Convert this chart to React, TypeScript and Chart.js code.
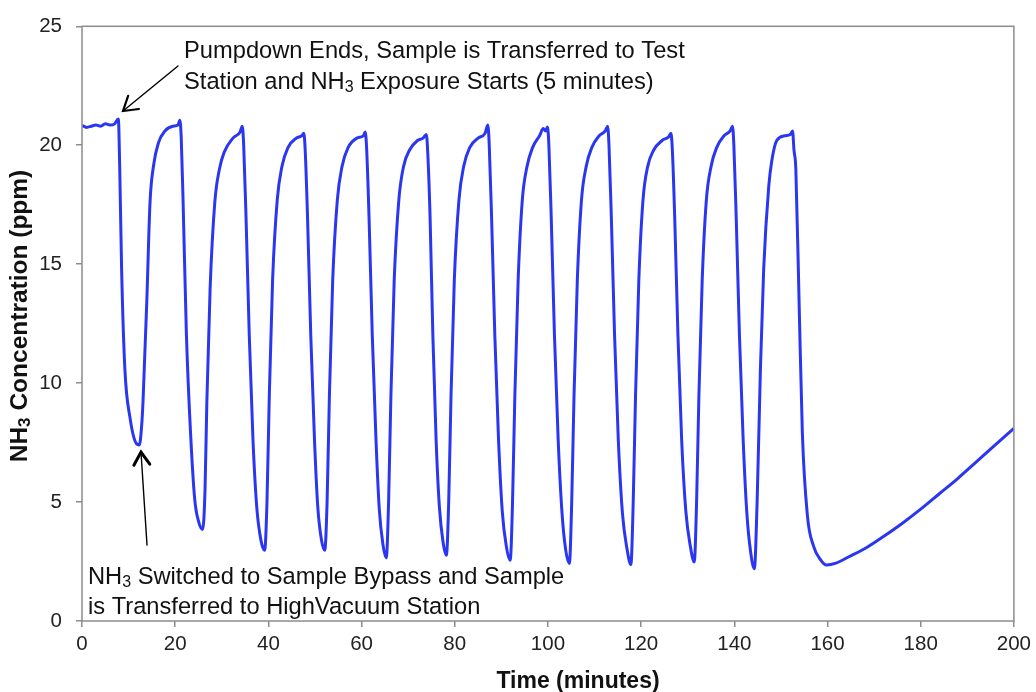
import React, { useEffect, useRef } from "react";
import { Chart, registerables } from "chart.js";

Chart.register(...registerables);

// Time (minutes)
const timeMinutes: number[] = [
  0, 1, 2, 3, 4, 5, 6, 7, 7.8,
  8.1, 8.5, 9.2, 10.3, 11.7, 12.3,
  12.8, 13.1, 13.9, 14.6, 15.4, 16.4, 17.8, 19.5, 20.6, 21.0,
  21.3, 21.7, 22.4, 23.3, 24.2, 25.0, 25.9,
  26.4, 26.8, 27.5, 28.5, 29.5, 30.5, 32.4, 33.9, 34.4,
  34.7, 35.2, 35.9, 36.7, 37.5, 38.4, 39.2,
  39.7, 40.2, 40.9, 41.9, 42.9, 44.2, 46.0, 47.2, 47.6,
  47.9, 48.4, 49.1, 49.9, 50.6, 51.4, 52.1,
  52.6, 53.1, 53.8, 54.8, 55.8, 57.1, 59.0, 60.4, 60.8,
  61.1, 61.6, 62.3, 63.1, 63.8, 64.6, 65.3,
  65.8, 66.3, 67.0, 68.0, 69.0, 70.3, 72.0, 73.2, 73.9,
  74.2, 74.7, 75.3, 76.0, 76.7, 77.5, 78.2,
  78.7, 79.2, 79.9, 80.9, 81.9, 83.2, 85.0, 86.5, 87.1,
  87.4, 87.9, 88.6, 89.4, 90.2, 91.1, 91.9,
  92.4, 92.9, 93.6, 94.5, 95.5, 96.7, 98.2, 99.0, 99.5, 99.9,
  100.2, 100.7, 101.4, 102.2, 103.0, 103.8, 104.6,
  105.1, 105.6, 106.3, 107.2, 108.2, 109.4, 111.0, 112.3, 112.8,
  113.1, 113.6, 114.3, 115.1, 116.0, 117.0, 117.8,
  118.3, 118.8, 119.5, 120.4, 121.4, 122.7, 124.5, 125.9, 126.4,
  126.7, 127.2, 127.9, 128.7, 129.6, 130.6, 131.4,
  131.9, 132.4, 133.1, 134.0, 135.0, 136.2, 137.8, 139.1, 139.6,
  139.9, 140.4, 141.1, 141.9, 142.7, 143.5, 144.3,
  144.9, 145.6, 146.3, 147.4, 148.0, 149.1, 150.9, 152.0, 152.5,
  152.8, 153.2, 153.9, 154.6, 155.7, 157.0, 158.4, 159.8,
  161.8, 164.6, 168.5, 172, 176, 180, 184, 188, 192, 196, 200,
];

// NH3 concentration (ppm)
const nh3Ppm: number[] = [
  20.84, 20.75, 20.8, 20.85, 20.8, 20.9, 20.85, 20.9, 21.1,
  19.0, 14.8, 10.6, 8.55, 7.45, 7.4,
  8.2, 9.25, 13.4, 17.6, 19.2, 20.1, 20.6, 20.8, 20.85, 21.05,
  20.3, 17.6, 12.1, 7.9, 5.1, 4.2, 3.85,
  5.5, 9.25, 14.0, 17.6, 19.0, 19.7, 20.3, 20.55, 20.8,
  20.0, 17.0, 12.0, 7.6, 4.8, 3.4, 2.97,
  5.0, 9.5, 14.3, 17.7, 19.1, 19.9, 20.3, 20.4, 20.5,
  19.8, 17.0, 12.0, 7.6, 4.8, 3.4, 2.97,
  5.0, 9.5, 14.3, 17.7, 19.1, 19.9, 20.3, 20.4, 20.56,
  19.8, 17.0, 12.0, 7.6, 4.7, 3.2, 2.65,
  5.0, 9.5, 14.3, 17.7, 19.1, 19.8, 20.2, 20.3, 20.45,
  19.7, 17.0, 12.0, 7.6, 4.8, 3.3, 2.76,
  5.0, 9.5, 14.3, 17.7, 19.1, 19.9, 20.3, 20.5, 20.85,
  20.0, 17.0, 12.0, 7.6, 4.6, 3.1, 2.55,
  5.0, 9.5, 14.3, 17.7, 19.1, 19.9, 20.4, 20.7, 20.6, 20.77,
  20.0, 17.0, 12.0, 7.6, 4.6, 3.0, 2.42,
  5.0, 9.5, 14.3, 17.7, 19.1, 19.9, 20.4, 20.6, 20.8,
  20.0, 17.0, 12.0, 7.6, 4.5, 3.0, 2.37,
  5.0, 9.5, 14.3, 17.7, 19.1, 19.8, 20.2, 20.35, 20.5,
  19.8, 17.0, 12.0, 7.6, 4.6, 3.1, 2.48,
  5.0, 9.5, 14.3, 17.7, 19.1, 19.9, 20.4, 20.6, 20.8,
  20.0, 17.0, 12.0, 7.6, 4.5, 2.9, 2.2,
  5.07, 10.6, 14.8, 18.3, 19.3, 20.2, 20.4, 20.45, 20.6,
  19.8, 19.0, 13.4, 7.9, 4.4, 3.15, 2.6, 2.35,
  2.43, 2.7, 3.1, 3.55, 4.1, 4.7, 5.35, 6.0, 6.7, 7.4, 8.1,
];

const xTicks = { min: 0, max: 200, step: 20 };
const yTicks = { min: 0, max: 25, step: 5 };

const xTitle = "Time (minutes)";
const yTitleParts = [
  { t: "NH", sub: false },
  { t: "3", sub: true },
  { t: " Concentration (ppm)", sub: false },
];
const topNote = [
  [{ t: "Pumpdown Ends, Sample is Transferred to Test", sub: false }],
  [
    { t: "Station and NH", sub: false },
    { t: "3", sub: true },
    { t: " Exposure Starts (5 minutes)", sub: false },
  ],
];
const bottomNote = [
  [
    { t: "NH", sub: false },
    { t: "3", sub: true },
    { t: " Switched to Sample Bypass and Sample", sub: false },
  ],
  [{ t: "is Transferred to HighVacuum Station", sub: false }],
];

type Part = { t: string; sub: boolean };
const FAMILY = "'Liberation Sans', Arial, Helvetica, sans-serif";

function richWidth(ctx: CanvasRenderingContext2D, parts: Part[], size: number, weight: string) {
  let w = 0;
  for (const p of parts) {
    ctx.font = `${weight} ${p.sub ? Math.round(size * 0.68) : size}px ${FAMILY}`;
    w += ctx.measureText(p.t).width;
  }
  return w;
}

function drawRich(
  ctx: CanvasRenderingContext2D,
  parts: Part[],
  x: number,
  y: number,
  size: number,
  weight: string
) {
  let cx = x;
  ctx.textAlign = "left";
  ctx.textBaseline = "alphabetic";
  for (const p of parts) {
    const s = p.sub ? Math.round(size * 0.68) : size;
    ctx.font = `${weight} ${s}px ${FAMILY}`;
    ctx.fillText(p.t, cx, p.sub ? y + size * 0.12 : y);
    cx += ctx.measureText(p.t).width;
  }
}

function arrow(
  ctx: CanvasRenderingContext2D,
  x0: number,
  y0: number,
  x1: number,
  y1: number,
  headLen: number,
  lw: number,
  headLw: number
) {
  ctx.strokeStyle = "#000";
  ctx.lineWidth = lw;
  ctx.lineCap = "round";
  ctx.beginPath();
  ctx.moveTo(x0, y0);
  ctx.lineTo(x1, y1);
  ctx.stroke();
  const a = Math.atan2(y0 - y1, x0 - x1);
  const spread = (32 * Math.PI) / 180;
  ctx.lineWidth = headLw;
  ctx.lineJoin = "miter";
  ctx.beginPath();
  ctx.moveTo(x1 + headLen * Math.cos(a + spread), y1 + headLen * Math.sin(a + spread));
  ctx.lineTo(x1, y1);
  ctx.lineTo(x1 + headLen * Math.cos(a - spread), y1 + headLen * Math.sin(a - spread));
  ctx.stroke();
}

const overlayPlugin = {
  id: "overlay",
  afterDraw(chart: any) {
    const ctx: CanvasRenderingContext2D = chart.ctx;
    const { left, right, top, bottom } = chart.chartArea;
    ctx.save();
    // frame
    ctx.strokeStyle = "#8c8c8c";
    ctx.lineWidth = 1.5;
    ctx.strokeRect(left, top, right - left, bottom - top);

    ctx.fillStyle = "#111";
    // annotations
    drawRich(ctx, topNote[0], 184, 58, 23.7, "normal");
    drawRich(ctx, topNote[1], 184, 89, 23.7, "normal");
    drawRich(ctx, bottomNote[0], 88, 584, 23.7, "normal");
    drawRich(ctx, bottomNote[1], 88, 614, 23.7, "normal");

    arrow(ctx, 178, 66, 123, 111, 16, 1.4, 2.2);
    arrow(ctx, 147, 545, 141, 452, 15, 1.4, 3);

    // x title
    ctx.fillStyle = "#111";
    ctx.font = `bold 23px ${FAMILY}`;
    ctx.textAlign = "center";
    ctx.textBaseline = "alphabetic";
    ctx.fillText(xTitle, 578, 688);

    // y title (rotated)
    ctx.save();
    ctx.translate(18, 316);
    ctx.rotate(-Math.PI / 2);
    const w = richWidth(ctx, yTitleParts, 24.5, "bold");
    drawRich(ctx, yTitleParts, -w / 2, 9, 24.5, "bold");
    ctx.restore();

    ctx.restore();
  },
};

export default function App() {
  const ref = useRef<HTMLCanvasElement | null>(null);

  useEffect(() => {
    if (!ref.current) return;
    const points = timeMinutes.map((t, i) => ({ x: t, y: nh3Ppm[i] }));
    const chart = new Chart(ref.current, {
      type: "line",
      data: {
        datasets: [
          {
            data: points,
            borderColor: "#2a36f0",
            borderWidth: 3,
            pointRadius: 0,
            fill: false,
            cubicInterpolationMode: "monotone",
          },
        ],
      },
      options: {
        responsive: false,
        animation: false,
        events: [],
        layout: { padding: { left: 0, top: 24, right: 21, bottom: 0 } },
        plugins: {
          legend: { display: false },
          tooltip: { enabled: false },
          title: { display: false },
        },
        scales: {
          x: {
            type: "linear",
            min: xTicks.min,
            max: xTicks.max,
            afterFit: (s: any) => {
              s.height = 71;
            },
            border: { display: false },
            grid: {
              display: true,
              drawOnChartArea: false,
              drawTicks: true,
              tickLength: 6,
              color: "#8c8c8c",
              lineWidth: 1.5,
            },
            ticks: {
              stepSize: xTicks.step,
              autoSkip: false,
              maxRotation: 0,
              padding: 5,
              color: "#222",
              font: { family: FAMILY, size: 20.5 },
            },
          },
          y: {
            type: "linear",
            min: yTicks.min,
            max: yTicks.max,
            afterFit: (s: any) => {
              s.width = 82;
            },
            border: { display: false },
            grid: {
              display: true,
              drawOnChartArea: false,
              drawTicks: true,
              tickLength: 6,
              color: "#8c8c8c",
              lineWidth: 1.5,
            },
            ticks: {
              stepSize: yTicks.step,
              padding: 14,
              color: "#222",
              font: { family: FAMILY, size: 20.5 },
            },
          },
        },
      },
      plugins: [overlayPlugin],
    });
    return () => chart.destroy();
  }, []);

  return (
    <div style={{ position: "fixed", left: 0, top: 0, width: 1036, height: 692, background: "#fff" }}>
      <canvas ref={ref} width={1036} height={692} style={{ display: "block" }} />
    </div>
  );
}
